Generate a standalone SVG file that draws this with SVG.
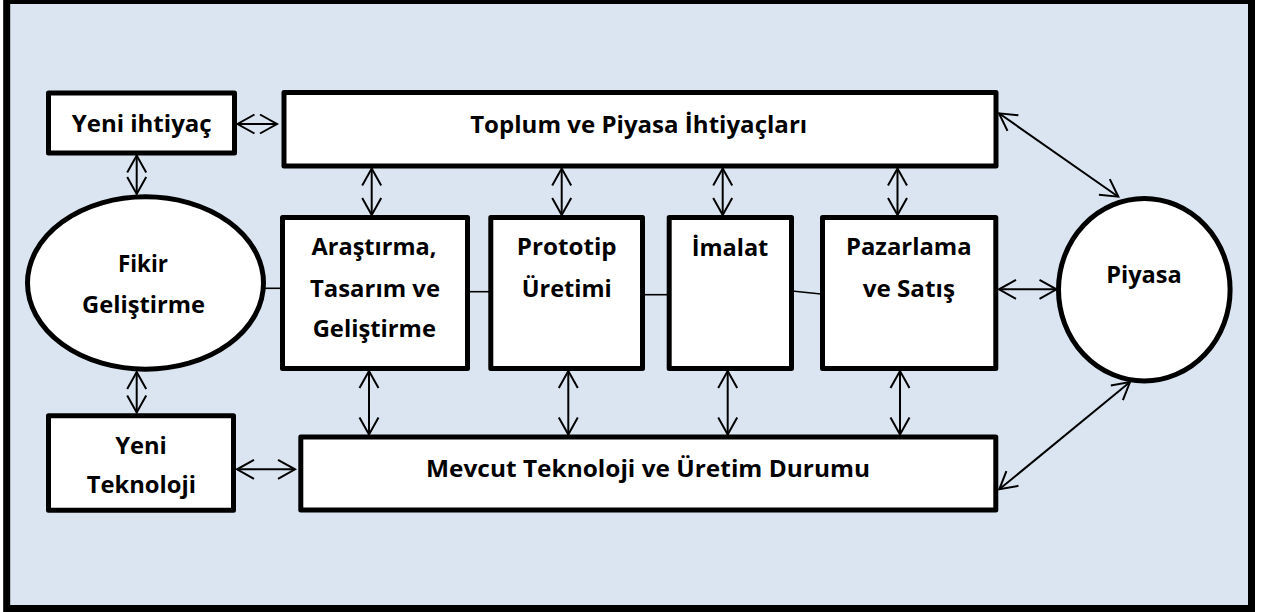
<svg xmlns="http://www.w3.org/2000/svg" width="1264" height="612" viewBox="0 0 1264 612">
  <style>
    .box { fill: #ffffff; stroke: #000000; stroke-width: 5; stroke-linejoin: round; }
    .lbl { font-family: "Open Sans", "Liberation Sans", sans-serif; font-weight: bold; font-size: 23px; fill: #000000; text-anchor: middle; }
    .con { stroke: #000000; stroke-width: 1.6; fill: none; }
    .arr { stroke: #000000; stroke-width: 2; fill: none; marker-start: url(#vh); marker-end: url(#vh); }
  </style>
  <defs>
    <marker id="vh" markerUnits="userSpaceOnUse" orient="auto-start-reverse" refX="0" refY="0" markerWidth="30" markerHeight="30" overflow="visible">
      <path d="M -17 -9.5 L 0 0 L -17 9.5" fill="none" stroke="#000000" stroke-width="2" stroke-linejoin="miter"/>
    </marker>
  </defs>
  <rect x="0" y="0" width="1264" height="612" fill="#ffffff"/>
  <rect id="frame" x="6.7" y="0.5" width="1244.8" height="608" fill="#dbe5f1" stroke="#000000" stroke-width="7"/>

  <g id="connectors">
    <line class="con" x1="264" y1="288.3" x2="281" y2="288.3"/>
    <line class="con" x1="468" y1="291.7" x2="490" y2="291.7"/>
    <line class="con" x1="643" y1="294.7" x2="668" y2="294.7"/>
    <line class="con" x1="792" y1="291" x2="821" y2="294"/>
    <line class="arr" x1="237.5" y1="124" x2="277" y2="124"/>
    <line class="arr" x1="136.7" y1="155.5" x2="136.7" y2="194"/>
    <line class="arr" x1="136.7" y1="372" x2="136.7" y2="412.5"/>
    <line class="arr" x1="237" y1="469.3" x2="295" y2="469.3"/>
    <line class="arr" x1="371.7" y1="168.5" x2="371.7" y2="215"/>
    <line class="arr" x1="561.7" y1="168.5" x2="561.7" y2="215"/>
    <line class="arr" x1="722.7" y1="168.5" x2="722.7" y2="215"/>
    <line class="arr" x1="897.5" y1="168.5" x2="897.5" y2="215"/>
    <line class="arr" x1="369" y1="371" x2="369" y2="434.5"/>
    <line class="arr" x1="568.3" y1="371" x2="568.3" y2="434.5"/>
    <line class="arr" x1="727.7" y1="371" x2="727.7" y2="434.5"/>
    <line class="arr" x1="900" y1="371" x2="900" y2="434.5"/>
    <line class="arr" x1="999" y1="289.3" x2="1056.5" y2="289.3"/>
    <line class="arr" x1="999" y1="113.3" x2="1118.3" y2="196.7"/>
    <line class="arr" x1="999.3" y1="489.3" x2="1130" y2="382"/>
  </g>

  <g id="yeni-ihtiyac">
    <rect class="box" x="48.5" y="93" width="186" height="60"/>
    <text class="lbl" x="141.7" y="132.3" textLength="140" lengthAdjust="spacingAndGlyphs">Yeni ihtiyaç</text>
  </g>
  <g id="toplum">
    <rect class="box" x="284" y="92.5" width="712" height="73.5"/>
    <text class="lbl" x="638.7" y="133.3" textLength="337" lengthAdjust="spacingAndGlyphs">Toplum ve Piyasa İhtiyaçları</text>
  </g>
  <g id="fikir">
    <ellipse class="box" cx="145.5" cy="283" rx="118" ry="86.2"/>
    <text class="lbl" x="143" y="272.3" textLength="50" lengthAdjust="spacingAndGlyphs">Fikir</text>
    <text class="lbl" x="143.5" y="313.3" textLength="123" lengthAdjust="spacingAndGlyphs">Geliştirme</text>
  </g>
  <g id="arastirma">
    <rect class="box" x="282.5" y="217.5" width="185" height="151"/>
    <text class="lbl" x="374" y="255" textLength="125" lengthAdjust="spacingAndGlyphs">Araştırma,</text>
    <text class="lbl" x="375" y="296.7" textLength="130" lengthAdjust="spacingAndGlyphs">Tasarım ve</text>
    <text class="lbl" x="374.3" y="337.3" textLength="123.3" lengthAdjust="spacingAndGlyphs">Geliştirme</text>
  </g>
  <g id="prototip">
    <rect class="box" x="490.8" y="217.5" width="151.7" height="151"/>
    <text class="lbl" x="566.7" y="255" textLength="100" lengthAdjust="spacingAndGlyphs">Prototip</text>
    <text class="lbl" x="566.7" y="296.7" textLength="90" lengthAdjust="spacingAndGlyphs">Üretimi</text>
  </g>
  <g id="imalat">
    <rect class="box" x="669.2" y="217.5" width="122.3" height="151"/>
    <text class="lbl" x="730" y="256" textLength="76.7" lengthAdjust="spacingAndGlyphs">İmalat</text>
  </g>
  <g id="pazarlama">
    <rect class="box" x="822.5" y="217.5" width="173.3" height="151"/>
    <text class="lbl" x="908.8" y="255" textLength="125.7" lengthAdjust="spacingAndGlyphs">Pazarlama</text>
    <text class="lbl" x="908.8" y="296.7" textLength="92.3" lengthAdjust="spacingAndGlyphs">ve Satış</text>
  </g>
  <g id="piyasa">
    <ellipse class="box" cx="1144.3" cy="289.7" rx="85.8" ry="91.2"/>
    <text class="lbl" x="1144" y="283.3" textLength="75.7" lengthAdjust="spacingAndGlyphs">Piyasa</text>
  </g>
  <g id="yeni-teknoloji">
    <rect class="box" x="48.5" y="415.8" width="185" height="94.4"/>
    <text class="lbl" x="141" y="454.3" textLength="51.7" lengthAdjust="spacingAndGlyphs">Yeni</text>
    <text class="lbl" x="141.3" y="493.3" textLength="109.3" lengthAdjust="spacingAndGlyphs">Teknoloji</text>
  </g>
  <g id="mevcut">
    <rect class="box" x="300.8" y="437" width="695" height="73"/>
    <text class="lbl" x="648" y="476.7" textLength="444" lengthAdjust="spacingAndGlyphs">Mevcut Teknoloji ve Üretim Durumu</text>
  </g>
</svg>
